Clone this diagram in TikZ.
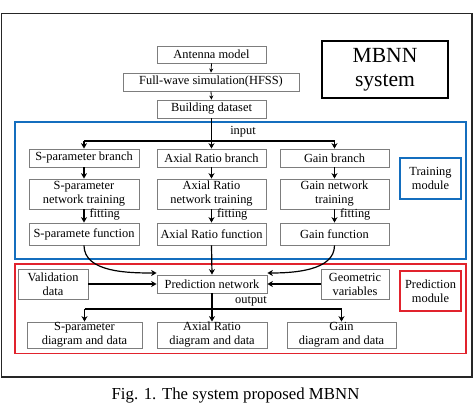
\documentclass[tikz,border=0pt]{standalone}
\usepackage{fontspec}
\setmainfont{Liberation Serif}
\usetikzlibrary{arrows.meta}
\definecolor{mblue}{RGB}{20,110,190}
\definecolor{mred}{RGB}{225,35,45}
\definecolor{bgray}{RGB}{125,125,125}
\tikzset{
  box/.style={draw=bgray, line width=0.8pt, inner sep=0pt, align=center, font=\fontsize{12.4}{14}\selectfont},
  lbl/.style={inner sep=0pt, font=\fontsize{12.4}{14}\selectfont},
  arr/.style={line width=1.2pt, -{Stealth[length=5.5pt,width=6pt,inset=1.8pt]}},
  thinarr/.style={line width=0.8pt, -{Stealth[length=4pt,width=4pt,inset=1.2pt]}},
  plain/.style={line width=1.2pt},
}
\begin{document}
\begin{tikzpicture}[x=1pt,y=-1pt]
\useasboundingbox (0,0) rectangle (474,404);
% frames
\draw[line width=1.5pt, black!85] (1.5,13.5) rectangle (472,377);
\draw[line width=1.3pt, mblue] (15,122) rectangle (466,259);
\draw[line width=1.3pt, mred] (15,264) rectangle (466,353.5);
% top chain
\node[box, minimum width=109pt, minimum height=17pt] (ant) at (211.5,54.5) {Antenna model};
\node[box, minimum width=176pt, minimum height=18pt] (fw) at (211,82) {Full-wave simulation(HFSS)};
\node[box, minimum width=109pt, minimum height=18pt] (bd) at (211.5,109) {Building dataset};
\node[draw, line width=1.3pt, minimum width=126pt, minimum height=57pt, inner sep=0pt, align=center,
      font=\fontsize{21.6}{24}\selectfont] (mbnn) at (385,69.5) {MBNN\\system};
% branches
\node[box, minimum width=110pt, minimum height=18pt] (sb) at (84,158) {S-parameter branch};
\node[box, minimum width=109pt, minimum height=18pt] (ab) at (211.5,158) {Axial Ratio branch};
\node[box, minimum width=109pt, minimum height=18pt] (gb) at (334.5,158) {Gain branch};
\node[box, minimum width=110pt, minimum height=30pt] (st) at (84,194) {S-parameter\\network training};
\node[box, minimum width=109pt, minimum height=30pt] (at) at (211.5,194) {Axial Ratio\\network training};
\node[box, minimum width=109pt, minimum height=30pt] (gt) at (334.5,194) {Gain network\\training};
\node[box, minimum width=110pt, minimum height=22pt] (sf) at (84,234) {S-paramete function};
\node[box, minimum width=109pt, minimum height=22pt] (af) at (211.5,234) {Axial Ratio function};
\node[box, minimum width=109pt, minimum height=22pt] (gf) at (334.5,234) {Gain function};
\node[box, draw=mblue, line width=1.3pt, minimum width=61pt, minimum height=41pt] (train) at (430.5,178.5) {Training\\module};
% prediction
\node[box, minimum width=70pt, minimum height=30pt] (val) at (53,284) {Validation\\data};
\node[box, minimum width=110pt, minimum height=18pt] (pred) at (212,284) {Prediction network};
\node[box, minimum width=68pt, minimum height=30pt] (geo) at (355,284) {Geometric\\variables};
\node[box, draw=mred, line width=1.3pt, minimum width=61pt, minimum height=40pt] (pmod) at (430.5,291) {Prediction\\module};
\node[box, minimum width=115pt, minimum height=26pt] (sd) at (84.5,335) {S-parameter\\diagram and data};
\node[box, minimum width=110pt, minimum height=26pt] (ad) at (212,335) {Axial Ratio\\diagram and data};
\node[box, minimum width=109pt, minimum height=26pt] (gd) at (341.5,335) {Gain\\diagram and data};
% caption
\node[inner sep=0pt, anchor=base, font=\fontsize{16.8}{19}\selectfont] (cap) at (235.5,399) {Fig. 1. The system proposed MBNN};
% connectors top
\draw[thinarr] (ant.south) -- (fw.north);
\draw[thinarr] (fw.south) -- (bd.north);
\coordinate (split) at (bd.south |- 0,141);
\draw[arr] (bd.south) -- (ab.north);
\draw[plain] (sb.north |- split) -- (gb.north |- split);
\draw[arr] (sb.north |- split) -- (sb.north);
\draw[arr] (gb.north |- split) -- (gb.north);
\node[lbl] (inp) at (243,132) {input};
\draw[arr] (sb) -- (st);
\draw[arr] (ab) -- (at);
\draw[arr] (gb) -- (gt);
\draw[arr] (st) -- node[lbl, right=5pt, yshift=2pt] (f1) {fitting} (sf);
\draw[arr] (at) -- node[lbl, right=5pt, yshift=2pt] (f2) {fitting} (af);
\draw[arr] (gt) -- node[lbl, right=5pt, yshift=2pt] (f3) {fitting} (gf);
% into prediction
\coordinate (pl) at (pred.north west |- 0,273);
\coordinate (pr) at (pred.north east |- 0,273);
\draw[arr] (sf.south) to[out=-90, in=180, looseness=0.9] (pl);
\draw[arr] (gf.south) to[out=-90, in=0, looseness=0.9] (pr);
\draw[arr] (af.south) -- (pred.north);
\draw[arr] (val.east) -- (pred.west);
\draw[arr] (geo.west) -- (pred.east);
% outputs
\coordinate (osplit) at (pred.south |- 0,309);
\draw[arr] (pred.south) -- (ad.north);
\draw[plain] (sd.north |- osplit) -- (gd.north |- osplit);
\draw[arr] (sd.north |- osplit) -- (sd.north);
\draw[arr] (gd.north |- osplit) -- (gd.north);
\node[lbl] (outl) at (251,301) {output};
\end{tikzpicture}
\end{document}
